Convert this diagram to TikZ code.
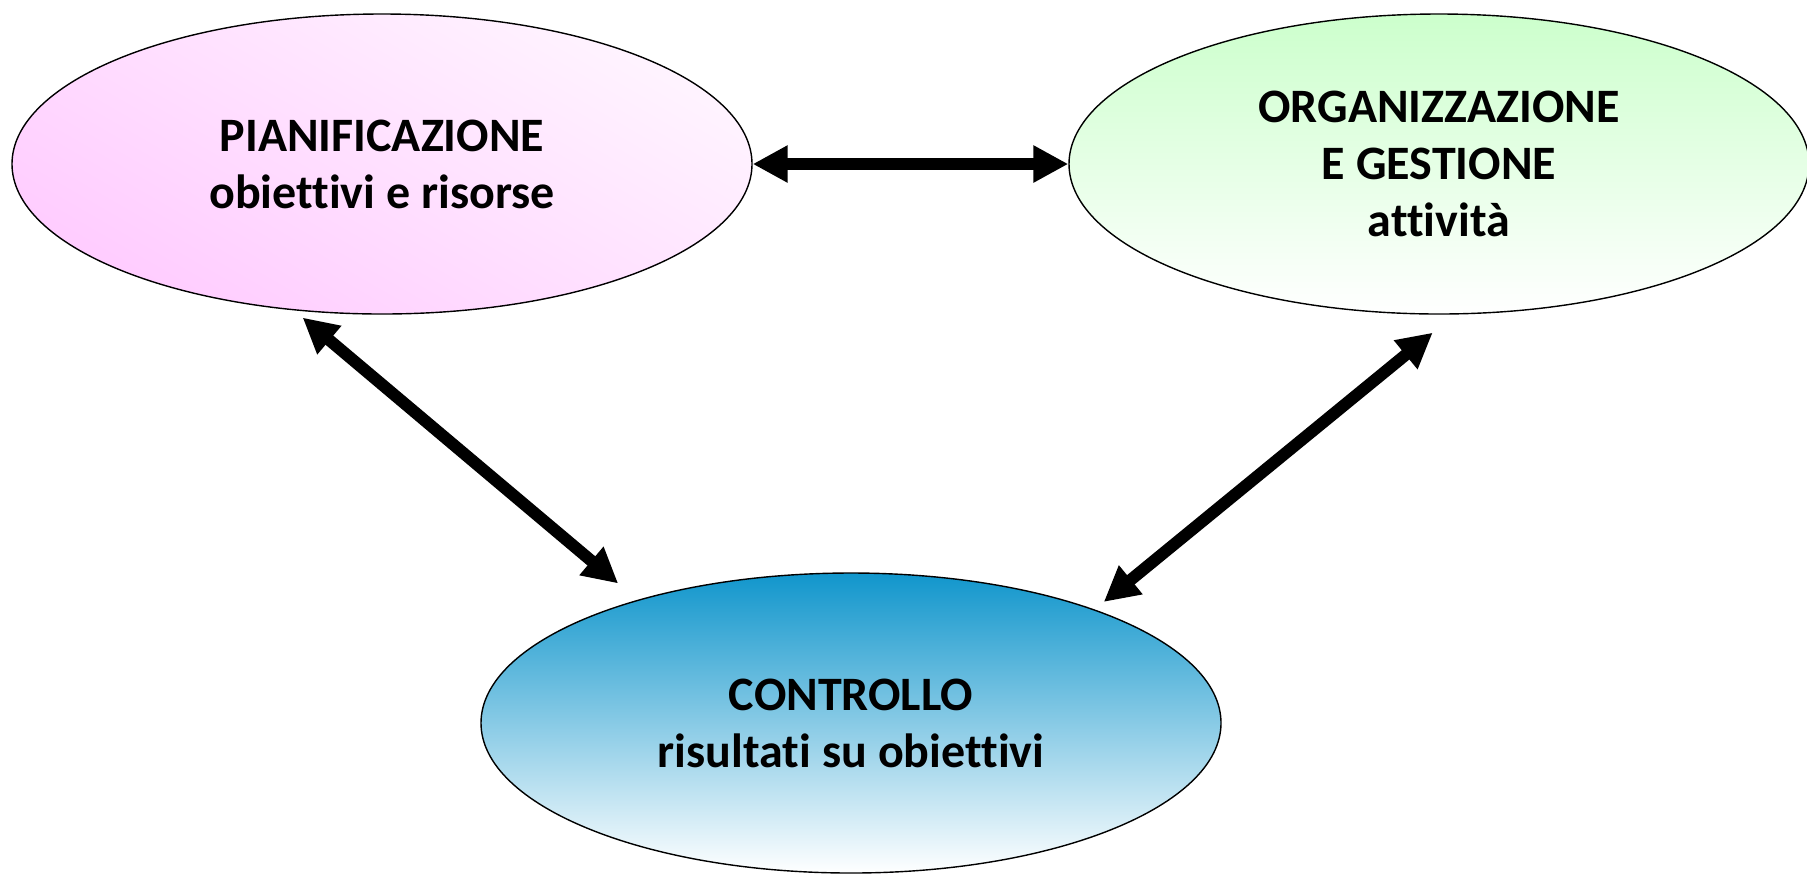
\documentclass[tikz,border=0pt]{standalone}
\usepackage{fontspec}
\setmainfont{Carlito}[Ligatures={NoCommon}]
\usetikzlibrary{arrows.meta,shapes.geometric}
\definecolor{pinkdark}{RGB}{255,204,255}
\definecolor{pinklight}{RGB}{255,244,255}
\definecolor{greentop}{RGB}{204,255,204}
\definecolor{bluetop}{RGB}{17,150,204}

\begin{document}
\begin{tikzpicture}[x=0.5pt,y=-0.5pt,>={Triangle[length=17.5pt,width=17.5pt]},
	fase/.style={ellipse,draw=black,line width=0.7pt,minimum width=370pt,minimum height=150pt,inner sep=0pt,align=center,font=\fontsize{24}{28.5}\selectfont\bfseries},
	link/.style={<->,line width=6pt}]
	\useasboundingbox (0,0) rectangle (1807,875);
	% le tre fasi
	\node[fase,top color=pinklight,bottom color=pinkdark,shading angle=-30] (pian) at (382,164) {PIANIFICAZIONE\\obiettivi e risorse};
	\node[fase,top color=greentop,bottom color=white] (org) at (1439,164) {ORGANIZZAZIONE\\E GESTIONE\\attività};
	\node[fase,top color=bluetop,bottom color=white] (contr) at (851,723) {CONTROLLO\\risultati su obiettivi};
	% frecce
	\draw[link] (pian.east) -- (org.west);
	\draw[link,shorten <=5.6pt,shorten >=12.7pt] (pian.-121.3) -- (contr.150.8);
	\draw[link,shorten <=14.3pt,shorten >=5.9pt] (org.-84.2) -- (contr.25.1);
\end{tikzpicture}
\end{document}
